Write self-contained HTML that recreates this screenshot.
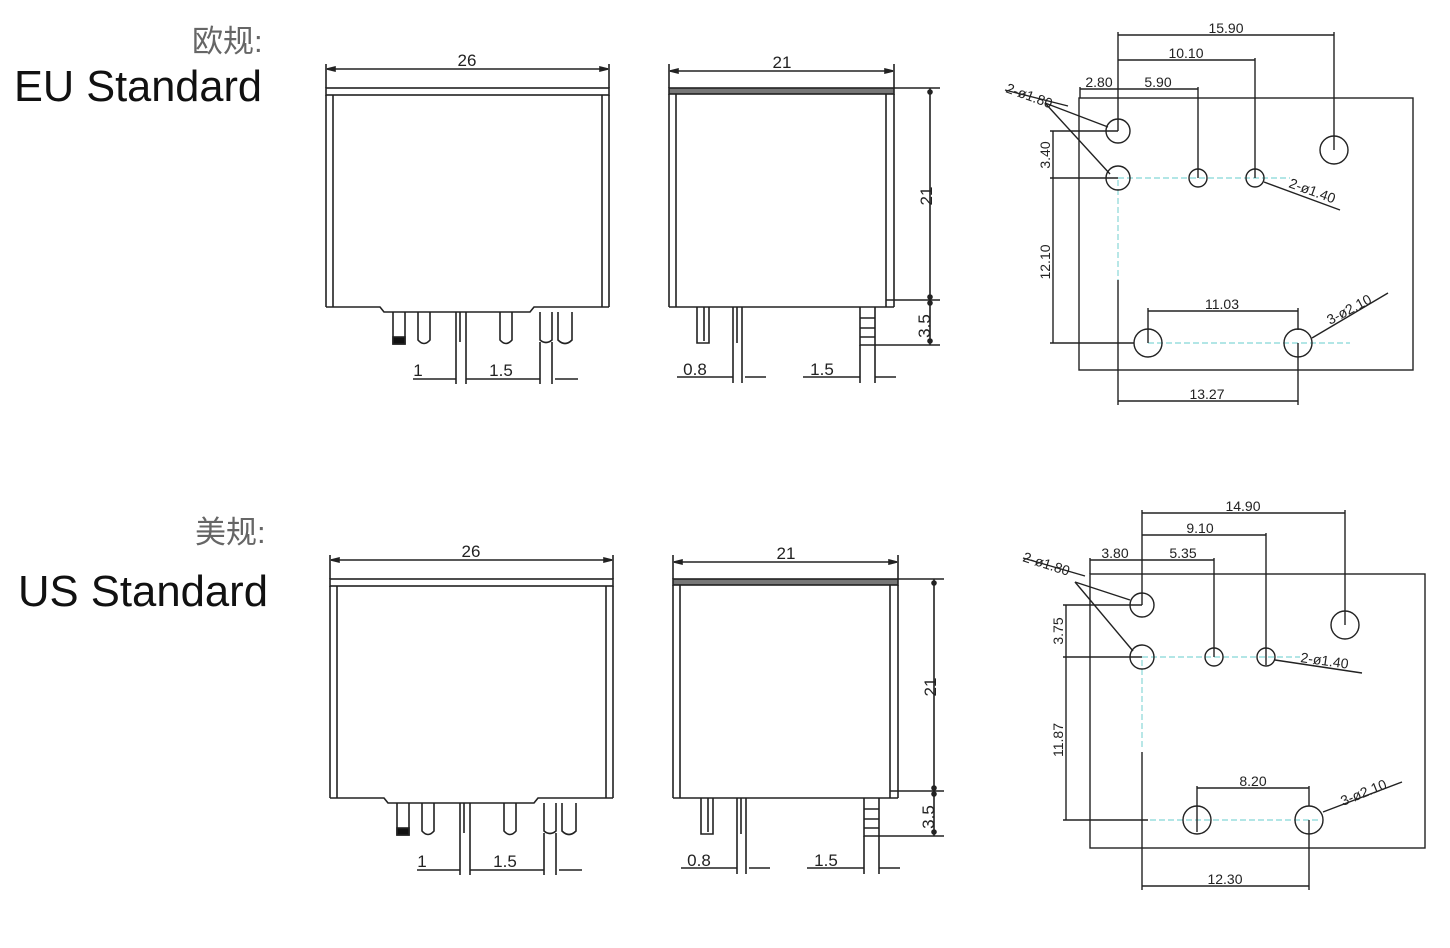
<!DOCTYPE html>
<html><head><meta charset="utf-8"><style>
html,body{margin:0;padding:0;background:#fff;}
svg{display:block;}
text{font-family:"Liberation Sans","Noto Sans CJK SC",sans-serif;}
.d{font-size:17px;fill:#222;}
.p{font-size:14px;fill:#222;}
</style></head><body>
<svg width="1450" height="948" viewBox="0 0 1450 948" xmlns="http://www.w3.org/2000/svg">
<defs>
<g id="elev" fill="none" stroke="#222" stroke-width="1.6">
  <line x1="326" y1="64" x2="326" y2="88"/><line x1="609" y1="64" x2="609" y2="88"/>
  <line x1="327" y1="69" x2="608" y2="69"/>
  <path d="M327 69l8-2v4z M608 69l-8-2v4z" fill="#222"/>
  <rect x="326" y="88" width="283" height="7"/>
  <line x1="326" y1="95" x2="326" y2="307"/><line x1="333" y1="95" x2="333" y2="307"/>
  <line x1="602" y1="95" x2="602" y2="307"/><line x1="609" y1="95" x2="609" y2="307"/>
  <polyline points="326,307 380,307 384,312 530,312 534,307 609,307"/>
  <path d="M393 312v32h12v-32"/><rect x="393" y="337" width="12" height="7" fill="#111"/>
  <path d="M418 312v28q6 7 12 0v-28"/>
  <path d="M456 312v30M466 312v30M460 312v30"/>
  <path d="M500 312v28q6 7 12 0v-28"/>
  <path d="M540 312v28q6 5 12 0v-28"/>
  <path d="M558 312v28q7 7 14 0v-28"/>
  <line x1="456" y1="342" x2="456" y2="384"/><line x1="466" y1="342" x2="466" y2="384"/>
  <line x1="540" y1="342" x2="540" y2="384"/><line x1="552" y1="342" x2="552" y2="384"/>
  <line x1="413" y1="379" x2="456" y2="379"/><line x1="466" y1="379" x2="540" y2="379"/><line x1="555" y1="379" x2="578" y2="379"/>
  <line x1="669" y1="64" x2="669" y2="88"/><line x1="894" y1="64" x2="894" y2="88"/>
  <line x1="670" y1="71" x2="893" y2="71"/>
  <path d="M670 71l8-2v4z M893 71l-8-2v4z" fill="#222"/>
  <rect x="669" y="88" width="225" height="6" fill="#777"/>
  <line x1="669" y1="94" x2="669" y2="307"/><line x1="676" y1="94" x2="676" y2="307"/>
  <line x1="886" y1="94" x2="886" y2="307"/><line x1="894" y1="94" x2="894" y2="307"/>
  <line x1="669" y1="307" x2="894" y2="307"/>
  <path d="M697 307v36h12v-36M704 307v34M733 307v38M742 307v38M737 307v36"/>
  <path d="M860 307v38h15v-38M860 318h15M860 328h15M860 337h15"/>
  <line x1="894" y1="88" x2="940" y2="88"/><line x1="886" y1="300" x2="940" y2="300"/><line x1="875" y1="345" x2="940" y2="345"/>
  <line x1="930" y1="88" x2="930" y2="345"/>
  <circle cx="930" cy="92" r="2" fill="#222"/><circle cx="930" cy="297" r="2" fill="#222"/><circle cx="930" cy="303" r="2" fill="#222"/><circle cx="930" cy="341" r="2" fill="#222"/>
  <line x1="677" y1="377" x2="733" y2="377"/><line x1="745" y1="377" x2="766" y2="377"/>
  <line x1="803" y1="377" x2="860" y2="377"/><line x1="875" y1="377" x2="896" y2="377"/>
  <line x1="733" y1="345" x2="733" y2="383"/><line x1="742" y1="345" x2="742" y2="383"/>
  <line x1="860" y1="345" x2="860" y2="383"/><line x1="875" y1="345" x2="875" y2="383"/>
</g>
<g id="elevtxt">
  <text x="467" y="66" class="d" text-anchor="middle" font-size="22">26</text>
  <text x="782" y="68" class="d" text-anchor="middle" font-size="22">21</text>
  <text transform="translate(932,196) rotate(-90)" class="d" text-anchor="middle" font-size="22">21</text>
  <text transform="translate(930,326) rotate(-90)" class="d" text-anchor="middle" font-size="20">3.5</text>
  <text x="418" y="376" class="d" text-anchor="middle" font-size="20">1</text>
  <text x="501" y="376" class="d" text-anchor="middle" font-size="20">1.5</text>
  <text x="695" y="375" class="d" text-anchor="middle" font-size="20">0.8</text>
  <text x="822" y="375" class="d" text-anchor="middle" font-size="20">1.5</text>
</g>
</defs>

<text x="192" y="52" font-size="31" fill="#666" font-family="'Noto Sans CJK SC',sans-serif">欧规:</text>
<text x="14" y="101" font-size="44" fill="#111" textLength="248" lengthAdjust="spacingAndGlyphs">EU Standard</text>
<text x="195" y="543" font-size="31" fill="#666" font-family="'Noto Sans CJK SC',sans-serif">美规:</text>
<text x="18" y="606" font-size="44" fill="#111" textLength="250" lengthAdjust="spacingAndGlyphs">US Standard</text>

<use href="#elev"/><use href="#elevtxt"/>
<g transform="translate(4,491)"><use href="#elev"/><use href="#elevtxt"/></g>

<g fill="none" stroke="#222" stroke-width="1.4">
  <rect x="1079" y="98" width="334" height="272"/>
  <g stroke="#9dd" stroke-dasharray="6 3"><line x1="1118" y1="178" x2="1290" y2="178"/><line x1="1118" y1="180" x2="1118" y2="280"/><line x1="1148" y1="343" x2="1350" y2="343"/></g>
  <circle cx="1118" cy="131" r="12"/><circle cx="1118" cy="178" r="12"/>
  <circle cx="1198" cy="178" r="9"/><circle cx="1255" cy="178" r="9"/>
  <circle cx="1334" cy="150" r="14"/><circle cx="1148" cy="343" r="14"/><circle cx="1298" cy="343" r="14"/>
  <line x1="1118" y1="32" x2="1118" y2="131"/><line x1="1334" y1="32" x2="1334" y2="150"/><line x1="1118" y1="35" x2="1334" y2="35"/>
  <line x1="1255" y1="58" x2="1255" y2="178"/><line x1="1118" y1="60" x2="1255" y2="60"/>
  <line x1="1198" y1="87" x2="1198" y2="178"/><line x1="1080" y1="89" x2="1198" y2="89"/><line x1="1080" y1="87" x2="1080" y2="98"/>
  <line x1="1118" y1="280" x2="1118" y2="405"/><line x1="1298" y1="343" x2="1298" y2="405"/><line x1="1118" y1="401" x2="1298" y2="401"/>
  <line x1="1148" y1="308" x2="1148" y2="343"/><line x1="1298" y1="308" x2="1298" y2="330"/><line x1="1148" y1="311" x2="1298" y2="311"/>
  <line x1="1050" y1="131" x2="1118" y2="131"/><line x1="1050" y1="178" x2="1118" y2="178"/><line x1="1050" y1="343" x2="1134" y2="343"/>
  <line x1="1053" y1="131" x2="1053" y2="343"/>
  <line x1="1005" y1="90" x2="1068" y2="106"/><line x1="1045" y1="103" x2="1108" y2="127"/><line x1="1045" y1="103" x2="1110" y2="174"/>
  <line x1="1264" y1="182" x2="1340" y2="210"/><line x1="1312" y1="338" x2="1388" y2="293"/>
</g>
<g class="p">
  <text x="1226" y="33" text-anchor="middle">15.90</text>
  <text x="1186" y="58" text-anchor="middle">10.10</text>
  <text x="1099" y="87" text-anchor="middle">2.80</text>
  <text x="1158" y="87" text-anchor="middle">5.90</text>
  <text x="1222" y="309" text-anchor="middle">11.03</text>
  <text x="1207" y="399" text-anchor="middle">13.27</text>
  <text transform="translate(1050,155) rotate(-90)" text-anchor="middle">3.40</text>
  <text transform="translate(1050,262) rotate(-90)" text-anchor="middle">12.10</text>
  <text transform="translate(1005,92) rotate(20)">2-ø1.80</text>
  <text transform="translate(1288,187) rotate(20)">2-ø1.40</text>
  <text transform="translate(1330,325) rotate(-28)">3-ø2.10</text>
</g>

<g fill="none" stroke="#222" stroke-width="1.4">
  <rect x="1090" y="574" width="335" height="274"/>
  <g stroke="#9dd" stroke-dasharray="6 3"><line x1="1142" y1="657" x2="1300" y2="657"/><line x1="1142" y1="660" x2="1142" y2="750"/><line x1="1150" y1="820" x2="1320" y2="820"/></g>
  <circle cx="1142" cy="605" r="12"/><circle cx="1142" cy="657" r="12"/>
  <circle cx="1214" cy="657" r="9"/><circle cx="1266" cy="657" r="9"/>
  <circle cx="1345" cy="625" r="14"/><circle cx="1197" cy="820" r="14"/><circle cx="1309" cy="820" r="14"/>
  <line x1="1142" y1="510" x2="1142" y2="605"/><line x1="1345" y1="510" x2="1345" y2="625"/><line x1="1142" y1="513" x2="1345" y2="513"/>
  <line x1="1266" y1="533" x2="1266" y2="665"/><line x1="1142" y1="535" x2="1266" y2="535"/>
  <line x1="1214" y1="558" x2="1214" y2="657"/><line x1="1090" y1="560" x2="1214" y2="560"/><line x1="1090" y1="558" x2="1090" y2="574"/>
  <line x1="1142" y1="752" x2="1142" y2="890"/><line x1="1309" y1="820" x2="1309" y2="890"/><line x1="1142" y1="886" x2="1309" y2="886"/>
  <line x1="1197" y1="786" x2="1197" y2="832"/><line x1="1309" y1="786" x2="1309" y2="806"/><line x1="1197" y1="788" x2="1309" y2="788"/>
  <line x1="1063" y1="605" x2="1142" y2="605"/><line x1="1063" y1="657" x2="1142" y2="657"/><line x1="1063" y1="820" x2="1148" y2="820"/>
  <line x1="1066" y1="605" x2="1066" y2="820"/>
  <line x1="1023" y1="558" x2="1085" y2="576"/><line x1="1075" y1="582" x2="1130" y2="600"/><line x1="1075" y1="582" x2="1133" y2="651"/>
  <line x1="1275" y1="660" x2="1362" y2="673"/><line x1="1323" y1="812" x2="1402" y2="782"/>
</g>
<g class="p">
  <text x="1243" y="511" text-anchor="middle">14.90</text>
  <text x="1200" y="533" text-anchor="middle">9.10</text>
  <text x="1115" y="558" text-anchor="middle">3.80</text>
  <text x="1183" y="558" text-anchor="middle">5.35</text>
  <text x="1253" y="786" text-anchor="middle">8.20</text>
  <text x="1225" y="884" text-anchor="middle">12.30</text>
  <text transform="translate(1063,631) rotate(-90)" text-anchor="middle">3.75</text>
  <text transform="translate(1063,740) rotate(-90)" text-anchor="middle">11.87</text>
  <text transform="translate(1022,561) rotate(18)">2-ø1.80</text>
  <text transform="translate(1300,662) rotate(8)">2-ø1.40</text>
  <text transform="translate(1343,806) rotate(-22)">3-ø2.10</text>
</g>
</svg>
</body></html>
